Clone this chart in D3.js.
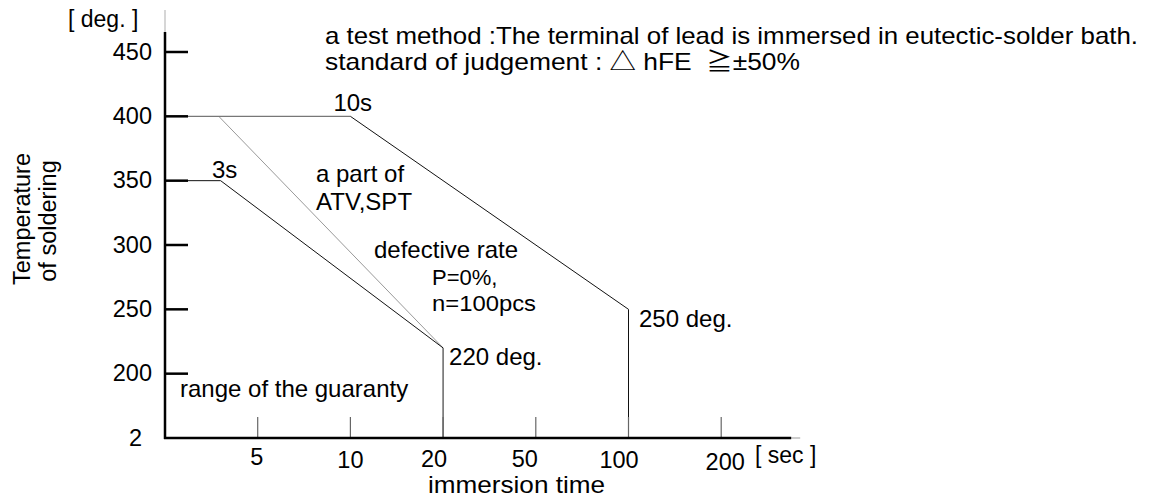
<!DOCTYPE html>
<html>
<head>
<meta charset="utf-8">
<script src="https://cdn.jsdelivr.net/npm/d3@7/dist/d3.min.js"></script>
<style>
  html, body { margin: 0; padding: 0; background: #ffffff; }
  svg { display: block; }
  text { font-family: "Liberation Sans", Arial, Helvetica, "Noto Sans CJK JP", sans-serif; fill: #000; }
</style>
</head>
<body>
<svg id="chart" width="1171" height="504"></svg>
<script>
// ---------------- data ----------------
const xBreakValues = [0, 5, 10, 20, 50, 100, 200];      // immersion time anchors (sec), equally spaced on axis
const xTickValues  = [5, 10, 20, 50, 100, 200];
const xTickLabels  = ["5", "10", "20", "50", "100", "200"];
const yTickValues  = [200, 250, 300, 350, 400, 450];
const yTickLabels  = ["200", "250", "300", "350", "400", "450"];
const yBottomLabel = "2";

// 10 s curve: flat part at 400 deg, then down to 250 deg at 100 s
const flat10sTime = [0, 10];
const flat10sTemp = [400, 400];
const curve10sTime = [10, 100, 100];
const curve10sTemp = [400, 250, 150];
// 3 s curve: 350 deg until 3 s, then down to 220 deg at 20 s
const curve3sTime = [0, 3, 20];
const curve3sTemp = [350, 350, 220];
const drop20Time = [20, 20];
const drop20Temp = [220, 150];
// "a part of ATV,SPT" line
const atvTime = [2.9, 20];
const atvTemp = [400, 220];

const titleLines = [
  "a test method :The terminal of lead is immersed in eutectic-solder bath.",
  "standard of judgement : \u25B3 hFE \u00A0\u2267\u00B150%"
];

// ---------------- layout ----------------
const svg = d3.select("#chart");
const x0 = 165, xStep = 92.7;
const x = d3.scaleLinear()
  .domain(xBreakValues)
  .range(xBreakValues.map((d, i) => x0 + i * xStep));
const y = d3.scaleLinear().domain([150, 450]).range([438, 52]);

const line = d3.line().x(d => x(d[0])).y(d => y(d[1]));
const pairs = (a, b) => a.map((d, i) => [d, b[i]]);

// axis extensions (light gray)
svg.append("line").attr("x1", x0).attr("x2", x0).attr("y1", 10).attr("y2", y(465.5))
  .attr("stroke", "#bbb").attr("stroke-width", 1.2);
svg.append("line").attr("x1", x(200) + 70).attr("x2", x(200) + 79).attr("y1", y(150)).attr("y2", y(150))
  .attr("stroke", "#bbb").attr("stroke-width", 1.5);

// curves
svg.append("path").attr("d", line(pairs(atvTime, atvTemp)))
  .attr("fill", "none").attr("stroke", "#999").attr("stroke-width", 1);
svg.append("path").attr("d", line(pairs(flat10sTime, flat10sTemp)))
  .attr("fill", "none").attr("stroke", "#777").attr("stroke-width", 1.2);
svg.append("path").attr("d", line(pairs(curve10sTime, curve10sTemp)))
  .attr("fill", "none").attr("stroke", "#111").attr("stroke-width", 1);
svg.append("path").attr("d", line(pairs(curve3sTime, curve3sTemp)))
  .attr("fill", "none").attr("stroke", "#111").attr("stroke-width", 1);
svg.append("path").attr("d", line(pairs(drop20Time, drop20Temp)))
  .attr("fill", "none").attr("stroke", "#666").attr("stroke-width", 1.5);

// x ticks (upward, thin gray)
svg.append("g").selectAll("line").data(xTickValues).join("line")
  .attr("x1", d => x(d)).attr("x2", d => x(d))
  .attr("y1", y(150)).attr("y2", y(150) - 21)
  .attr("stroke", "#666").attr("stroke-width", 1.2);

// y ticks (right-pointing, thick)
svg.append("g").selectAll("line").data(yTickValues).join("line")
  .attr("x1", x0).attr("x2", x0 + 23)
  .attr("y1", d => y(d)).attr("y2", d => y(d))
  .attr("stroke", "#000").attr("stroke-width", 2.5);

// axis lines
svg.append("line").attr("x1", x0).attr("x2", x0).attr("y1", y(465.5)).attr("y2", y(150) + 1)
  .attr("stroke", "#000").attr("stroke-width", 2.5);
svg.append("line").attr("x1", x0 - 1).attr("x2", x(200) + 70).attr("y1", y(150)).attr("y2", y(150))
  .attr("stroke", "#000").attr("stroke-width", 2.5);

// y tick labels
svg.append("g").selectAll("text").data(yTickValues).join("text")
  .attr("x", 152).attr("y", d => y(d)).attr("dy", "0.33em")
  .attr("text-anchor", "end").style("font-size", "23.5px")
  .text((d, i) => yTickLabels[i]);
svg.append("text").attr("x", 142).attr("y", y(150)).attr("dy", "0.33em")
  .attr("text-anchor", "end").style("font-size", "23.5px").text(yBottomLabel);

// x tick labels (small hand-placement nudges as in the original)
const xNudge = { "5": [-1, -2], "10": [0, 1], "20": [-9, 0], "50": [-11, 0], "100": [-9.5, 1], "200": [4, 3] };
svg.append("g").selectAll("text").data(xTickValues).join("text")
  .attr("x", (d, i) => x(d) + xNudge[xTickLabels[i]][0])
  .attr("y", (d, i) => 467 + xNudge[xTickLabels[i]][1])
  .attr("text-anchor", "middle").style("font-size", "23.5px")
  .text((d, i) => xTickLabels[i]);

// axis titles
svg.append("text").attr("x", 68).attr("y", 27).style("font-size", "23px").text("[ deg. ]");
svg.append("text").attr("x", 755).attr("y", 463).style("font-size", "23px").text("[ sec ]");
svg.append("text").attr("x", 428).attr("y", 493).style("font-size", "24px")
  .attr("textLength", 177).attr("lengthAdjust", "spacingAndGlyphs").text("immersion time");
svg.append("text").attr("transform", "translate(29.5,219) rotate(-90)")
  .attr("text-anchor", "middle").style("font-size", "23.5px").text("Temperature");
svg.append("text").attr("transform", "translate(56,221) rotate(-90)")
  .attr("text-anchor", "middle").style("font-size", "23.5px").text("of soldering");

// header lines
svg.append("text").attr("x", 325).attr("y", 44).style("font-size", "24px")
  .attr("textLength", 813).attr("lengthAdjust", "spacingAndGlyphs").text(titleLines[0]);
svg.append("text").attr("x", 325).attr("y", 70).style("font-size", "24px")
  .attr("textLength", 475).attr("lengthAdjust", "spacingAndGlyphs").text(titleLines[1]);

// annotations anchored to the curves
const notes = [
  { text: "10s", t: 10, v: 400, dx: -17, dy: -5 },
  { text: "250 deg.", t: 100, v: 250, dx: 10.5, dy: 17.5 },
  { text: "220 deg.", t: 20, v: 220, dx: 6, dy: 17 }
];
svg.append("g").selectAll("text").data(notes).join("text")
  .attr("x", d => x(d.t) + d.dx).attr("y", d => y(d.v) + d.dy)
  .style("font-size", "24px").text(d => d.text);

// free annotations
const freeNotes = [
  { text: "3s", px: 212, py: 178, fs: 24 },
  { text: "a part of", px: 316, py: 182, fs: 24 },
  { text: "ATV,SPT", px: 316, py: 210, fs: 24 },
  { text: "defective rate", px: 374, py: 258, fs: 24 },
  { text: "P=0%,", px: 432, py: 285, fs: 22 },
  { text: "n=100pcs", px: 432, py: 311, fs: 22 },
  { text: "range of the guaranty", px: 180, py: 397, fs: 24 }
];
svg.append("g").selectAll("text").data(freeNotes).join("text")
  .attr("x", d => d.px).attr("y", d => d.py)
  .style("font-size", d => d.fs + "px")
  .attr("textLength", d => d.text === "n=100pcs" ? 104 : null)
  .attr("lengthAdjust", "spacingAndGlyphs")
  .text(d => d.text);
</script>
</body>
</html>
